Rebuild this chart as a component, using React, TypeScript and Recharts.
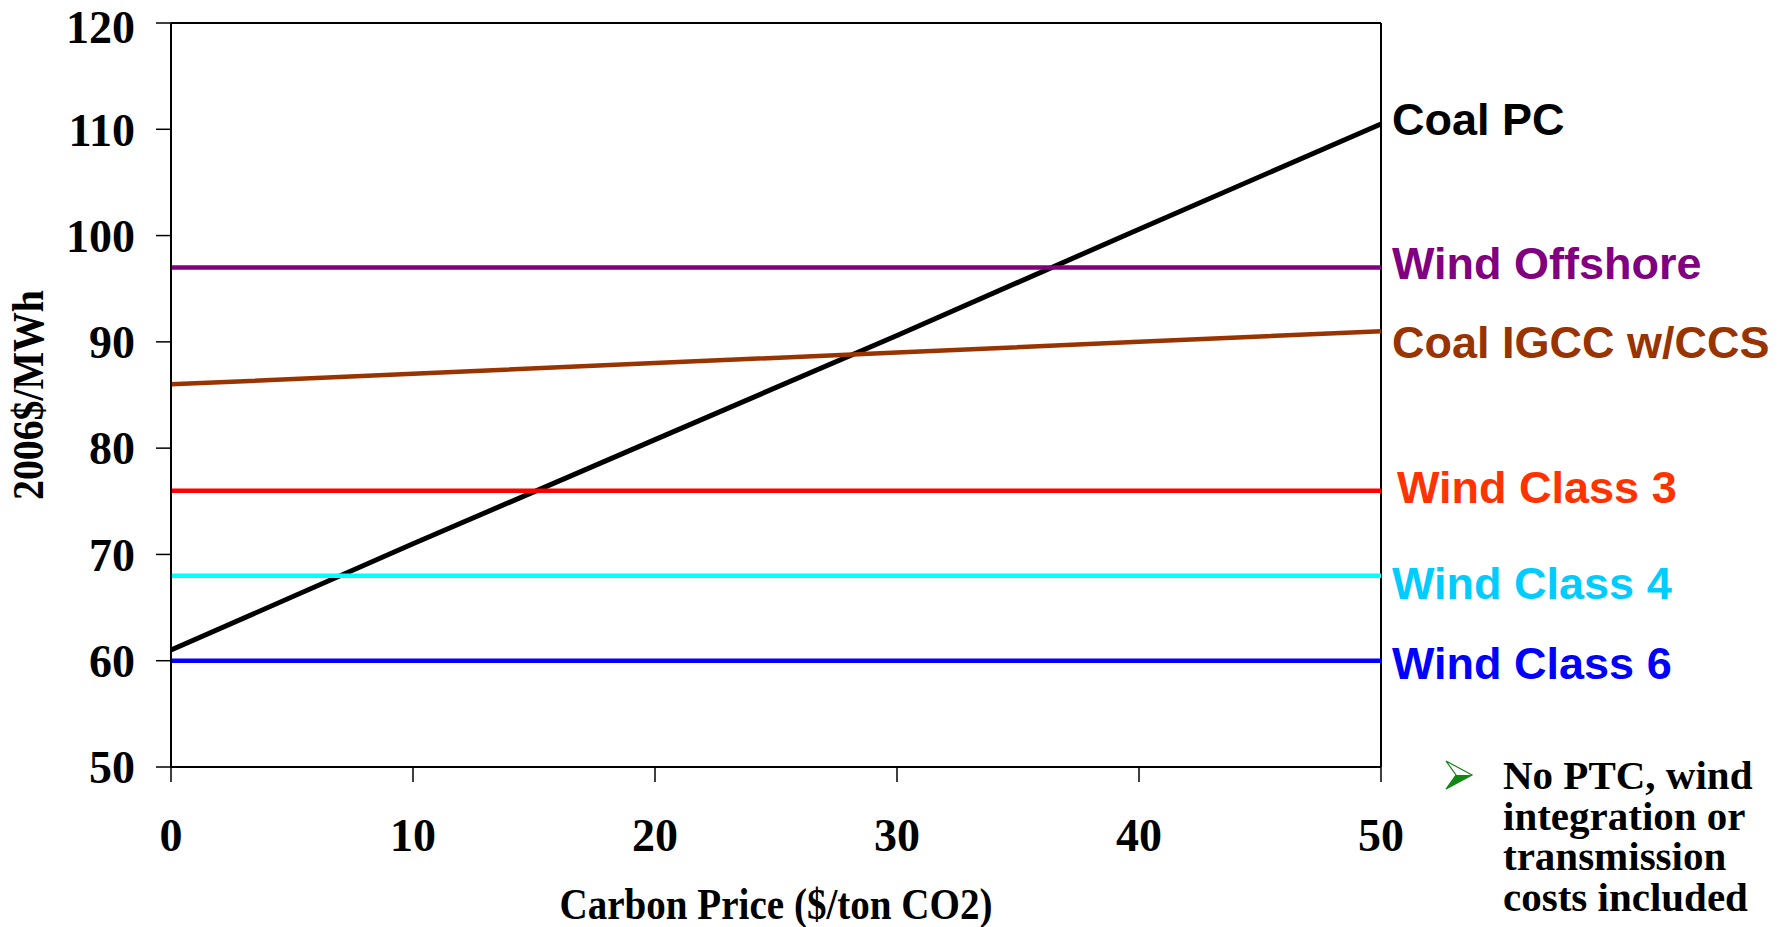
import { Label, LabelList, Line, LineChart, ReferenceLine, XAxis, YAxis } from "recharts"

const carbonPrice = [0, 10, 20, 30, 40, 50]
const coalPC = [61, 71, 80.8, 90.6, 100.6, 110.5]
const coalIGCC = [86, 87, 88, 89, 90, 91]
const windOffshore = [97, 97, 97, 97, 97, 97]
const windClass3 = [76, 76, 76, 76, 76, 76]
const windClass4 = [68, 68, 68, 68, 68, 68]
const windClass6 = [60, 60, 60, 60, 60, 60]

const xTicks = [0, 10, 20, 30, 40, 50]
const yTicks = [50, 60, 70, 80, 90, 100, 110, 120]
const noteLines = ["No PTC, wind", "integration or", "transmission", "costs included"]

const data = carbonPrice.map((price, i) => ({
  price,
  coalPC: coalPC[i],
  coalIGCC: coalIGCC[i],
  windOffshore: windOffshore[i],
  windClass3: windClass3[i],
  windClass4: windClass4[i],
  windClass6: windClass6[i],
}))

const series = [
  { key: "coalPC", name: "Coal PC", stroke: "#000000", text: "#000000", width: 5, dx: 11, dy: 11 },
  { key: "coalIGCC", name: "Coal IGCC w/CCS", stroke: "#993300", text: "#993300", width: 4.5, dx: 11, dy: 27 },
  { key: "windOffshore", name: "Wind Offshore", stroke: "#800080", text: "#800080", width: 4.5, dx: 11, dy: 12 },
  { key: "windClass3", name: "Wind Class 3", stroke: "#ff0000", text: "#ff3300", width: 4.5, dx: 16, dy: 12 },
  { key: "windClass4", name: "Wind Class 4", stroke: "#00ffff", text: "#00ccff", width: 4.5, dx: 11, dy: 23 },
  { key: "windClass6", name: "Wind Class 6", stroke: "#0000ff", text: "#0000ff", width: 4.5, dx: 11, dy: 18 },
]

const serif = '"Liberation Serif", "Times New Roman", serif'
const sans = '"Liberation Sans", Arial, sans-serif'
const lastIndex = carbonPrice.length - 1

// only the point at $50 gets the series name, to the right of the frame
function endLabel(name: string, color: string, dx: number, dy: number) {
  return (props: any) => {
    if (props.index !== lastIndex) return null
    return (
      <text x={props.x + dx} y={props.y + dy} fill={color} fontSize={45} fontWeight="bold" fontFamily={sans}>
        {name}
      </text>
    )
  }
}

const tickStyle = { fill: "#000", fontSize: 46, fontWeight: "bold", fontFamily: serif }

export default function App() {
  return (
    <div style={{ position: "relative", width: 1792, height: 927, background: "#fff" }}>
      <style>{`body { margin: 0; }`}</style>
      <LineChart width={1792} height={927} data={data} margin={{ top: 23, right: 411, left: 0, bottom: 0 }}>
        <XAxis
          dataKey="price"
          type="number"
          domain={[0, 50]}
          ticks={xTicks}
          height={160}
          tickSize={15}
          tickMargin={36}
          axisLine={{ stroke: "#000", strokeWidth: 2 }}
          tickLine={{ stroke: "#000", strokeWidth: 1.5 }}
          tick={tickStyle}
        >
          <Label
            content={() => (
              <text
                x={776}
                y={919}
                textAnchor="middle"
                textLength={433}
                lengthAdjust="spacingAndGlyphs"
                fontSize={45}
                fontWeight="bold"
                fontFamily={serif}
                fill="#000"
              >
                Carbon Price ($/ton CO2)
              </text>
            )}
          />
        </XAxis>
        <YAxis
          type="number"
          domain={[50, 120]}
          ticks={yTicks}
          width={171}
          tickSize={15}
          tickMargin={21}
          axisLine={{ stroke: "#000", strokeWidth: 2 }}
          tickLine={{ stroke: "#000", strokeWidth: 1.5 }}
          tick={tickStyle}
        >
          <Label
            content={() => (
              <text
                x={43}
                y={395}
                transform="rotate(-90, 43, 395)"
                textAnchor="middle"
                textLength={210}
                lengthAdjust="spacingAndGlyphs"
                fontSize={44}
                fontWeight="bold"
                fontFamily={serif}
                fill="#000"
              >
                2006$/MWh
              </text>
            )}
          />
        </YAxis>
        <ReferenceLine y={120} stroke="#000" strokeWidth={2} />
        <ReferenceLine x={50} stroke="#000" strokeWidth={2} />
        {series.map((s) => (
          <Line
            key={s.key}
            type="linear"
            dataKey={s.key}
            stroke={s.stroke}
            strokeWidth={s.width}
            dot={false}
            activeDot={false}
            isAnimationActive={false}
          >
            <LabelList dataKey={s.key} content={endLabel(s.name, s.text, s.dx, s.dy)} />
          </Line>
        ))}
      </LineChart>
      <svg width={1792} height={927} style={{ position: "absolute", left: 0, top: 0, pointerEvents: "none" }}>
        <polygon points="1446,761 1472,775 1446,789 1456,775" fill="#ffffff" stroke="#1a801a" strokeWidth={1.2} />
        <polygon points="1456,775 1472,775 1446,789" fill="#118811" />
        {noteLines.map((line, i) => (
          <text key={line} x={1503} y={789 + i * 40.5} fontSize={41} fontWeight="bold" fontFamily={serif} fill="#000">
            {line}
          </text>
        ))}
      </svg>
    </div>
  )
}
